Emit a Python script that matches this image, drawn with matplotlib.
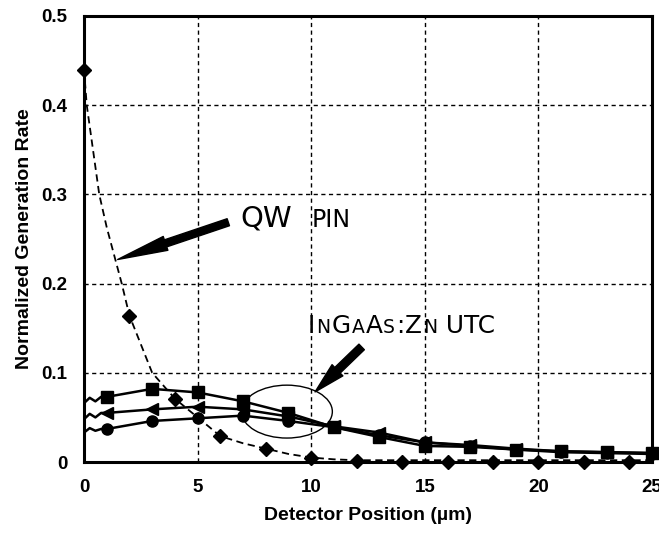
import matplotlib
matplotlib.use("Agg")
import matplotlib.pyplot as plt
from matplotlib.patches import Ellipse

# QW PIN (diamonds + dashed curve)
pin_x = [0, 2, 4, 6, 8, 10, 12, 14, 16, 18, 20, 22, 24]
pin_y = [0.44, 0.164, 0.071, 0.029, 0.015, 0.005, 0.001, 0, 0, 0, 0, 0, 0]
pin_curve_x = [0, 0.12, 0.67, 1.0, 1.66, 2, 3, 4, 5, 6, 7, 8, 9, 10, 11, 12, 14, 16, 18, 20, 22, 24, 25]
pin_curve_y = [0.44, 0.40, 0.30, 0.263, 0.20, 0.164, 0.10, 0.071, 0.05, 0.029, 0.021, 0.015,
               0.009, 0.005, 0.003, 0.002, 0.002, 0.002, 0.002, 0.002, 0.002, 0.002, 0.002]

# InGaAs:Zn UTC curves
utc_x = [1, 3, 5, 7, 9, 11, 13, 15, 17, 19, 21, 23, 25]
sq_y = [0.073, 0.082, 0.078, 0.068, 0.055, 0.039, 0.028, 0.018, 0.017, 0.014, 0.012, 0.011, 0.010]
tri_y = [0.055, 0.059, 0.062, 0.059, 0.051, 0.040, 0.033, 0.022, 0.019, 0.015, 0.012, 0.011, 0.010]
circ_y = [0.037, 0.046, 0.049, 0.052, 0.046, 0.039, 0.030, 0.022, 0.018, 0.014, 0.011, 0.010, 0.009]
# wiggle at the start of each simulated curve
start_x = [0, 0.25, 0.5, 0.75]
sq_start = [0.066, 0.072, 0.068, 0.073]
tri_start = [0.048, 0.054, 0.050, 0.055]
circ_start = [0.033, 0.038, 0.035, 0.037]

xticks = [0, 5, 10, 15, 20, 25]
yticks = [0, 0.1, 0.2, 0.3, 0.4, 0.5]

fig = plt.figure(figsize=(6.59, 5.33), dpi=100)
ax = fig.add_axes([0.1275, 0.1332, 0.8619, 0.8368])

ax.plot(pin_curve_x, pin_curve_y, color="black", lw=1.3, ls=(0, (4, 2.5)), zorder=3)
ax.plot(pin_x, pin_y, ls="none", marker="D", ms=7, color="black", clip_on=False, zorder=5)

for start, vals, mk, ms in [(sq_start, sq_y, "s", 9),
                            (tri_start, tri_y, "<", 9),
                            (circ_start, circ_y, "o", 8)]:
    ax.plot(start_x + utc_x, start + vals, color="black", lw=1.8, zorder=4)
    ax.plot(utc_x, vals, ls="none", marker=mk, ms=ms, color="black", clip_on=False, zorder=5)

ax.set_xlim(0, 25)
ax.set_ylim(0, 0.5)
ax.set_xticks(xticks)
ax.set_yticks(yticks)
ax.set_xticklabels([str(t) for t in xticks])
ax.set_yticklabels(["0"] + [f"{t:.1f}" for t in yticks[1:]])
ax.tick_params(axis="x", length=0, pad=12, labelsize=13.5)
ax.tick_params(axis="y", length=0, pad=12, labelsize=13.5)
for lab in ax.get_xticklabels() + ax.get_yticklabels():
    lab.set_fontweight("bold")
    lab.set_family("Liberation Sans")
ax.grid(True, color="black", ls=(0, (3, 2.5)), lw=1)
for s in ax.spines.values():
    s.set_linewidth(2.2)

ax.set_xlabel("Detector Position (\u00b5m)", fontsize=14, fontweight="bold",
              family="Liberation Sans", labelpad=8)
ax.set_ylabel("Normalized Generation Rate", fontsize=14, fontweight="bold",
              family="Liberation Sans", labelpad=6)

# annotations
ax.text(6.9, 0.264, "QW", fontsize=21, family="DejaVu Sans", va="baseline")
ax.text(10.0, 0.264, "PIN", fontsize=17, family="DejaVu Sans", va="baseline")
ax.annotate("", xy=(1.48, 0.227), xytext=(6.35, 0.2688),
            arrowprops=dict(arrowstyle="simple,head_length=2.6,head_width=0.75,tail_width=0.38",
                            color="black", shrinkA=0, shrinkB=0, mutation_scale=14))

# InGaAs:Zn UTC in small caps
parts = [("I", 17.8), ("N", 13.5), ("G", 17.8), ("A", 13.5), ("A", 17.8), ("S", 13.5),
         (":", 17.8), ("Z", 17.8), ("N", 13.5), (" UTC", 17.8)]
x0 = 308
for txt, fs in parts:
    t = fig.text(x0 / 659, 1 - 333 / 533, txt, fontsize=fs, family="DejaVu Sans",
                 va="baseline")
    fig.canvas.draw()
    bb = t.get_window_extent()
    x0 = bb.x1 + 1

ax.annotate("", xy=(10.17, 0.0786), xytext=(12.22, 0.129),
            arrowprops=dict(arrowstyle="simple,head_length=1.6,head_width=0.8,tail_width=0.4",
                            color="black", shrinkA=0, shrinkB=0, mutation_scale=14))
ax.add_patch(Ellipse((8.93, 0.0565), 4.0, 0.0593, fill=False, ec="black", lw=1, zorder=6))

fig.savefig("out.png", dpi=100)
